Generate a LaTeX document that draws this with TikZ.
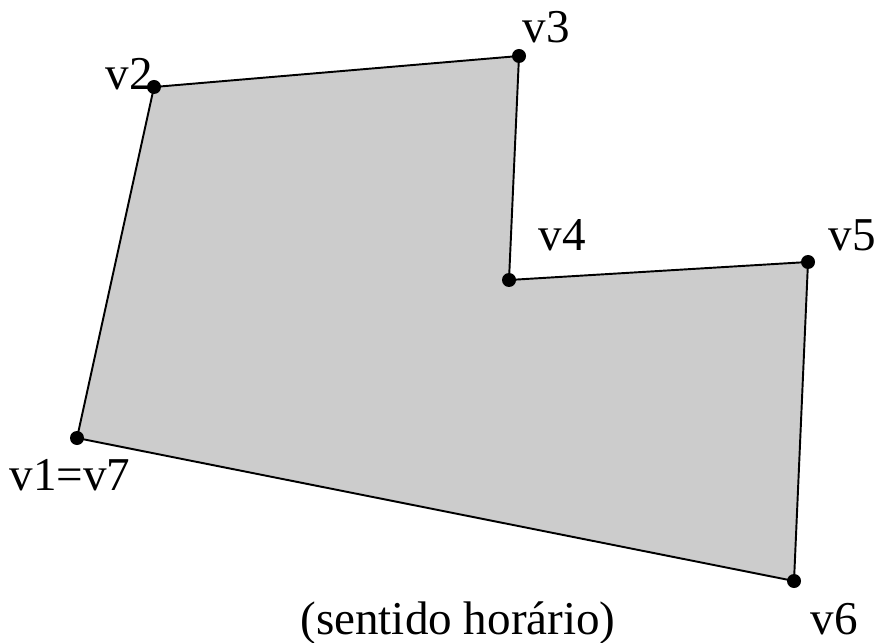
\documentclass[tikz,border=0pt]{standalone}
\usepackage{fontspec}
\setmainfont{Liberation Serif}
\usetikzlibrary{positioning}

\begin{document}
\begin{tikzpicture}[
  font=\fontsize{26.8}{32}\selectfont,
  poly/.style={fill=gray!40, draw=black, line width=1.1pt, line join=miter},
  vdot/.style={circle, fill=black, inner sep=0pt, minimum size=0.28cm},
  vlbl/.style={anchor=base, inner sep=0pt},
]
  \useasboundingbox (0,0) rectangle (17.5,12.84);

  % --- vertices ---
  \coordinate (v1) at (1.54, 4.08);
  \coordinate (v2) at (3.08, 11.10);
  \coordinate (v3) at (10.38, 11.72);
  \coordinate (v4) at (10.18, 7.24);
  \coordinate (v5) at (16.16, 7.60);
  \coordinate (v6) at (15.88, 1.22);

  % --- polygon ---
  \draw[poly] (v1) -- (v2) -- (v3) -- (v4) -- (v5) -- (v6) -- cycle;
  \foreach \v in {v1,v2,v3,v4,v5,v6}
    \node[vdot] (dot\v) at (\v) {};

  % --- labels ---
  \node[vlbl] (l2) at (2.58, 11.04) {v2};
  \node[vlbl] (l3) at (10.92, 11.98) {v3};
  \node[vlbl] (l4) at (11.24, 7.82) {v4};
  \node[vlbl] (l5) at (17.04, 7.82) {v5};
  \node[vlbl] (l1) at (1.40, 3.04) {v1=v7};
  \node[vlbl] (l6) at (16.68, 0.16) {v6};
  \node[vlbl] (sent) at (9.16, 0.16) {(sentido horário)};
\end{tikzpicture}
\end{document}
